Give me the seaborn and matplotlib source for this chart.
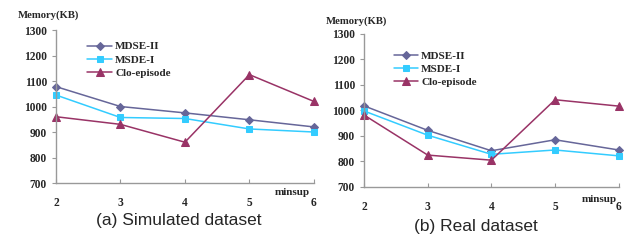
import pandas as pd
import matplotlib
matplotlib.use("Agg")
import matplotlib.pyplot as plt
import seaborn as sns

# minsup values on the x axis
minsup = [2, 3, 4, 5, 6]

# (a) Simulated dataset
sim_mdse2 = [1078, 1000, 975, 948, 920]
sim_msde1 = [1045, 957, 953, 912, 900]
sim_clo = [960, 930, 860, 1125, 1020]

# (b) Real dataset
real_mdse2 = [1018, 922, 842, 885, 845]
real_msde1 = [998, 903, 828, 845, 822]
real_clo = [982, 825, 805, 1042, 1017]

series_names = ["MDSE-II", "MSDE-I", "Clo-episode"]
colors = {"MDSE-II": "#666699", "MSDE-I": "#33CCFF", "Clo-episode": "#993366"}
markers = {"MDSE-II": "D", "MSDE-I": "s", "Clo-episode": "^"}
msizes = {"MDSE-II": 4.5, "MSDE-I": 5, "Clo-episode": 5.5}
y_ticks = [700, 800, 900, 1000, 1100, 1200, 1300]

sns.set_style("white")
plt.rcParams["font.family"] = ["Liberation Serif", "DejaVu Serif"]

fig = plt.figure(figsize=(6.32, 2.46), dpi=100)
ax1 = fig.add_axes([0.0886, 0.256, 0.408, 0.622])
ax2 = fig.add_axes([0.576, 0.240, 0.403, 0.622])


def draw_panel(ax, vals, leg_anchor, minsup_pos, cap_xy, caption):
    df = pd.DataFrame({
        "minsup": minsup * 3,
        "memory": vals[0] + vals[1] + vals[2],
        "method": [n for n in series_names for _ in minsup],
    })
    for name in series_names:
        sub = df[df["method"] == name]
        sns.lineplot(data=sub, x="minsup", y="memory", ax=ax, color=colors[name],
                     marker=markers[name], markersize=msizes[name],
                     markeredgecolor=colors[name], linewidth=1.1, label=name,
                     clip_on=False)
    ax.set_xlim(2, 6)
    ax.set_ylim(700, 1300)
    ax.set_xticks(minsup)
    ax.set_yticks(y_ticks)
    ax.set_xlabel("")
    ax.set_ylabel("")
    for s in ["top", "right"]:
        ax.spines[s].set_visible(False)
    for s in ["left", "bottom"]:
        ax.spines[s].set_color("#999999")
        ax.spines[s].set_linewidth(1.0)
    ax.tick_params(axis="y", direction="out", length=3, color="#999999",
                   labelsize=8.3, pad=3.5, left=True)
    ax.tick_params(axis="x", direction="in", length=3, color="#999999",
                   labelsize=8.3, pad=10, bottom=True)
    for lab in ax.get_xticklabels() + ax.get_yticklabels():
        lab.set_fontweight("bold")
    ax.legend(loc="upper left", bbox_to_anchor=leg_anchor, frameon=False,
              borderpad=0, handlelength=2.2, handletextpad=0.3,
              labelspacing=0.3, prop={"weight": "bold", "size": 8})
    ax.text(-0.15, 1.10 if caption.startswith("(a)") else 1.085, "Memory(KB)",
            transform=ax.transAxes, ha="left", va="center",
            fontsize=7.7, fontweight="bold")
    ax.text(minsup_pos[0], minsup_pos[1], "minsup", transform=ax.transAxes,
            ha="left", va="center", fontsize=8, fontweight="bold")
    fig.text(cap_xy[0], cap_xy[1], caption, ha="center", va="center",
             fontsize=12.5, family=["Liberation Sans", "DejaVu Sans"])


draw_panel(ax1, [sim_mdse2, sim_msde1, sim_clo], (0.10, 0.96), (0.849, -0.06),
           (179 / 632, 1 - 220 / 246), "(a) Simulated dataset")
draw_panel(ax2, [real_mdse2, real_msde1, real_clo], (0.094, 0.925), (0.855, -0.085),
           (476 / 632, 1 - 227 / 246), "(b) Real dataset")

fig.savefig("out.png", dpi=100)
